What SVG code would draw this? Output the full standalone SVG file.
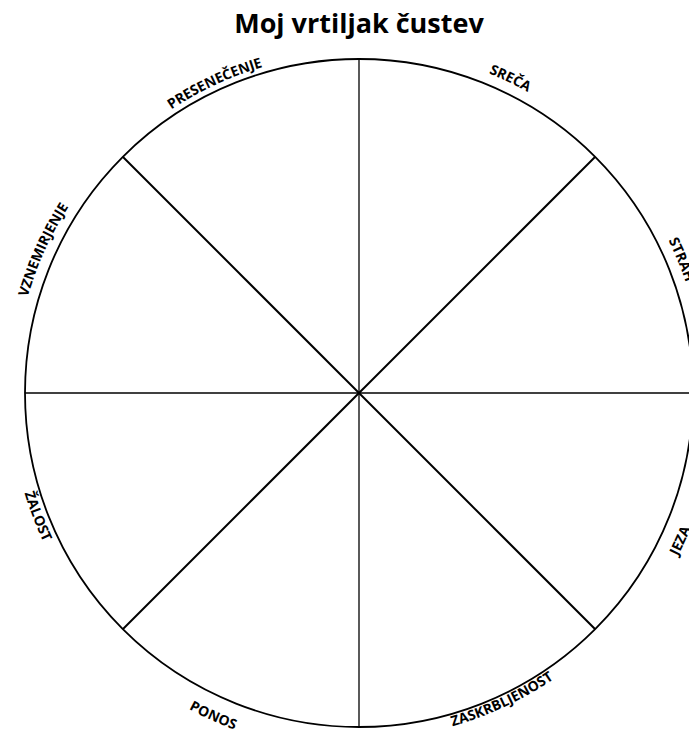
<svg xmlns="http://www.w3.org/2000/svg" xmlns:xlink="http://www.w3.org/1999/xlink" width="689" height="737" viewBox="0 0 689 737">
  <style>
    .title { font-family: "Open Sans", "Liberation Sans", sans-serif; font-weight: bold; font-size: 27px; fill: #000; }
    .lbl { font-family: "Open Sans", "Liberation Sans", sans-serif; font-weight: bold; font-size: 14px; fill: #000; }
    .ring { fill: none; stroke: #000; stroke-width: 1.8; }
    .axis { stroke: #000; stroke-width: 1.3; fill: none; }
    .diag { stroke: #000; stroke-width: 2; fill: none; }
  </style>
  <defs>
    <path id="top340" d="M 359,733 A 340 340 0 1 1 359,53 A 340 340 0 1 1 359,733"/>
    <path id="top345" d="M 359,738 A 345 345 0 1 1 359,48 A 345 345 0 1 1 359,738"/>
    <path id="bot346" d="M 359,47 A 346 346 0 1 0 359,739 A 346 346 0 1 0 359,47"/>
    <path id="bot349" d="M 359,44 A 349 349 0 1 0 359,742 A 349 349 0 1 0 359,44"/>
    <path id="bot358" d="M 359,35 A 358 358 0 1 0 359,751 A 358 358 0 1 0 359,35"/>
    <path id="bot359" d="M 359,34 A 359 359 0 1 0 359,752 A 359 359 0 1 0 359,34"/>
  </defs>
  <rect width="689" height="737" fill="#fff"/>
  <g id="title">
    <text class="title" x="359" y="33" text-anchor="middle">Moj vrtiljak čustev</text>
  </g>
  <g id="wheel">
    <circle class="ring" cx="359" cy="393" r="334"/>
  </g>
  <g id="connectors">
    <line class="axis" x1="359" y1="59" x2="359" y2="727"/>
    <line class="axis" x1="25" y1="393" x2="693" y2="393"/>
    <line class="diag" x1="123" y1="157" x2="595" y2="629"/>
    <line class="diag" x1="595" y1="157" x2="123" y2="629"/>
  </g>
  <g id="label-presenecenje">
    <text class="lbl" text-anchor="middle"><textPath href="#top340" xlink:href="#top340" startOffset="43.06%">PRESENEČENJE</textPath></text>
  </g>
  <g id="label-sreca">
    <text class="lbl" text-anchor="middle"><textPath href="#top345" xlink:href="#top345" startOffset="57.14%">SREČA</textPath></text>
  </g>
  <g id="label-strah">
    <text class="lbl" text-anchor="middle"><textPath href="#top345" xlink:href="#top345" startOffset="68.75%">STRAH</textPath></text>
  </g>
  <g id="label-vznemirjenje">
    <text class="lbl" text-anchor="middle"><textPath href="#top345" xlink:href="#top345" startOffset="31.78%">VZNEMIRJENJE</textPath></text>
  </g>
  <g id="label-zalost">
    <text class="lbl" text-anchor="middle"><textPath href="#bot349" xlink:href="#bot349" startOffset="30.83%">ŽALOST</textPath></text>
  </g>
  <g id="label-ponos">
    <text class="lbl" text-anchor="middle"><textPath href="#bot359" xlink:href="#bot359" startOffset="43.25%">PONOS</textPath></text>
  </g>
  <g id="label-zaskrbljenost">
    <text class="lbl" text-anchor="middle"><textPath href="#bot346" xlink:href="#bot346" startOffset="56.94%">ZASKRBLJENOST</textPath></text>
  </g>
  <g id="label-jeza">
    <text class="lbl" text-anchor="middle"><textPath href="#bot358" xlink:href="#bot358" startOffset="68.14%">JEZA</textPath></text>
  </g>
</svg>
